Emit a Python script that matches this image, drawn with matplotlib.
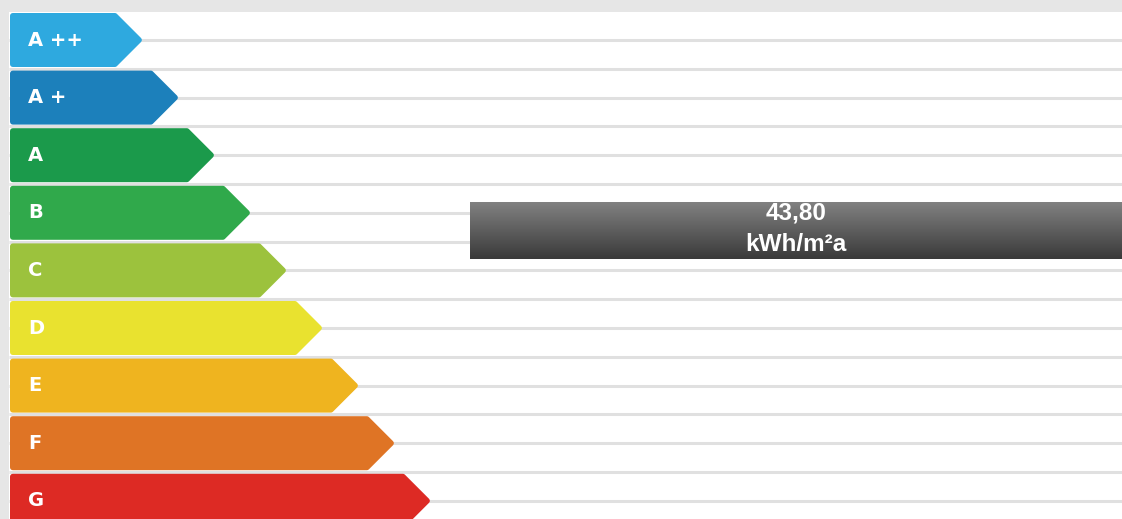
import numpy as np
import matplotlib
matplotlib.use('Agg')
import matplotlib.pyplot as plt
from matplotlib.patches import Polygon, Rectangle
from matplotlib.colors import LinearSegmentedColormap

# energy classes, top to bottom
classes = ['A ++', 'A +', 'A', 'B', 'C', 'D', 'E', 'F', 'G']
class_colors = ['#2ea9df', '#1c80bb', '#1b9a4b', '#30a94b', '#9cc23d',
                '#e9e22f', '#efb41f', '#df7425', '#dd2a24']
# measured value and where it sits on the class scale (row units)
value = 43.80
unit = 'kWh/m\u00b2a'
value_row = 3.3

W, H = 1122, 519
fig = plt.figure(figsize=(W / 100, H / 100), dpi=100, facecolor='#e6e6e6')
ax = fig.add_axes([0, 0, 1, 1])
ax.set_xlim(0, W)
ax.set_ylim(H, 0)
ax.axis('off')

# white panel
ax.add_patch(Rectangle((9, 12), W - 9, H - 12, facecolor='white',
                       edgecolor='none', zorder=0))

pitch = 57.6
row_h = 54
top0 = 13
x0 = 10
tip0 = 143
step = 36
edge_lw = 4
pad = edge_lw * 100 / 72 / 2  # stroke rounds the corners, shrink the core

# thin guide lines: through each row centre and in each gap
for k in range(2 * len(classes) - 1):
    y = top0 + row_h / 2 + k * pitch / 2
    ax.plot([9, W], [y, y], color='#e0e0e0', lw=2.2, zorder=1,
            solid_capstyle='butt')

# arrows
for i, (name, col) in enumerate(zip(classes, class_colors)):
    top = top0 + i * pitch + pad
    bot = top0 + i * pitch + row_h - pad
    mid = (top + bot) / 2
    tip = tip0 + i * step - pad * 1.4
    neck = tip - (bot - top) / 2
    pts = [(x0 + pad, top), (neck, top), (tip, mid), (neck, bot),
           (x0 + pad, bot)]
    ax.add_patch(Polygon(pts, closed=True, facecolor=col, edgecolor=col,
                         lw=edge_lw, joinstyle='round', zorder=2))
    ax.text(28, mid, name, color='white', fontsize=14, fontweight='bold',
            family='DejaVu Sans', va='center', ha='left', zorder=3)

# value bar with vertical gradient
bar_mid = top0 + row_h / 2 + value_row * pitch
bar_h = 57
bar_x = 470
cmap = LinearSegmentedColormap.from_list('g', ['#818181', '#3a3a3a'])
grad = np.linspace(0, 1, 100).reshape(-1, 1)
ax.imshow(grad, cmap=cmap, aspect='auto', origin='upper',
          extent=[bar_x, W, bar_mid + bar_h / 2, bar_mid - bar_h / 2],
          zorder=4, interpolation='bilinear')
ax.set_xlim(0, W)
ax.set_ylim(H, 0)

cx = (bar_x + W) / 2
label = f'{value:.2f}'.replace('.', ',')
ax.text(cx, bar_mid - 17, label, color='white', fontsize=17.5,
        fontweight='bold', family='Liberation Sans', ha='center',
        va='center', zorder=5)
ax.text(cx, bar_mid + 14, unit, color='white', fontsize=17.5,
        fontweight='bold', family='Liberation Sans', ha='center',
        va='center', zorder=5)

fig.savefig('out.png', dpi=100, facecolor=fig.get_facecolor())
